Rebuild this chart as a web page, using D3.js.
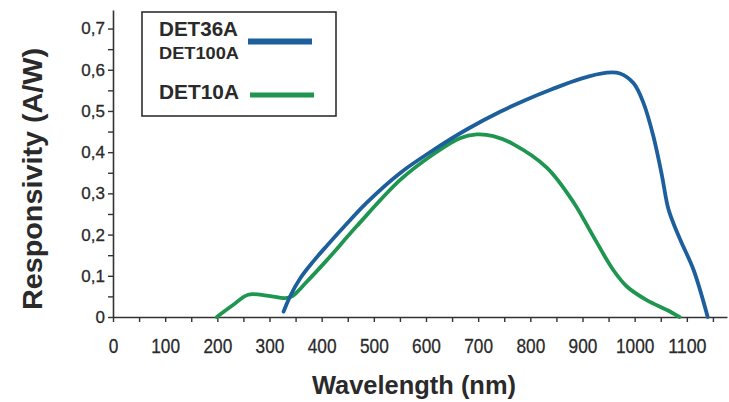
<!DOCTYPE html>
<html>
<head>
<meta charset="utf-8">
<script src="https://cdn.jsdelivr.net/npm/d3@7"></script>
<style>
  html, body { margin: 0; padding: 0; background: #fff; }
  svg { display: block; }
  text { font-family: "Liberation Sans", Arial, Helvetica, sans-serif; fill: #2a2a2a; }
</style>
</head>
<body>
<svg id="chart" width="729" height="402"></svg>
<script>
// Spectral responsivity (A/W) versus wavelength (nm)
const det36Wavelength = [327, 339, 359, 384, 410, 445, 486, 550, 614, 678, 742, 790, 840, 896, 947, 972, 998, 1017, 1036, 1052, 1064, 1075, 1090, 1113, 1140];
const det36Response   = [0.013, 0.049, 0.094, 0.135, 0.173, 0.222, 0.277, 0.349, 0.405, 0.455, 0.498, 0.526, 0.552, 0.578, 0.593, 0.591, 0.567, 0.519, 0.438, 0.345, 0.265, 0.225, 0.18, 0.114, 0];

const det10Wavelength = [199, 230, 259, 295, 330, 343, 371, 410, 467, 550, 614, 665, 697, 729, 768, 832, 883, 921, 959, 985, 1023, 1062, 1086];
const det10Response   = [0, 0.029, 0.054, 0.052, 0.046, 0.05, 0.085, 0.138, 0.22, 0.332, 0.395, 0.434, 0.443, 0.439, 0.419, 0.362, 0.278, 0.195, 0.114, 0.074, 0.041, 0.017, 0];

const xTickValues = d3.range(0, 1151, 50);
const yTickValues = d3.range(0, 0.701, 0.05).map(v => +v.toFixed(2));

const legendNames = ["DET36A", "DET100A", "DET10A"];
const blue = "#1d5f9c";
const green = "#1f9650";

const svg = d3.select("#chart");

const x = d3.scaleLinear().domain([0, 1177]).range([113, 727]);
const y = d3.scaleLinear().domain([0, 0.745]).range([317, 10]);

// x axis
const xAxis = svg.append("g")
  .attr("transform", `translate(0,${y(0)})`)
  .call(d3.axisBottom(x).tickValues(xTickValues).tickSize(5).tickSizeOuter(0)
    .tickFormat(d => d % 100 === 0 ? String(d) : ""));
xAxis.select(".domain").attr("stroke", "#333").attr("stroke-width", 1.6);
xAxis.selectAll(".tick line").attr("stroke", "#333").attr("stroke-width", 1.4);
xAxis.selectAll(".tick text")
  .attr("y", 36).attr("dy", 0)
  .style("font-size", "21px")
  .attr("fill", "#2a2a2a")
  .attr("stroke", "#2a2a2a").attr("stroke-width", 0.3)
  .each(function() {
    const t = d3.select(this).text();
    if (t) d3.select(this).attr("textLength", t.length * 9.6).attr("lengthAdjust", "spacingAndGlyphs");
  });

// y axis
const yAxis = svg.append("g")
  .attr("transform", `translate(${x(0)},0)`)
  .call(d3.axisLeft(y).tickValues(yTickValues).tickSize(5).tickSizeOuter(0)
    .tickFormat(d => {
      const r = Math.round(d * 100);
      if (r % 10 !== 0) return "";
      return r === 0 ? "0" : (d.toFixed(1)).replace(".", ",");
    }));
yAxis.select(".domain").attr("stroke", "#333").attr("stroke-width", 1.6);
yAxis.selectAll(".tick line").attr("stroke", "#333").attr("stroke-width", 1.4);
yAxis.selectAll(".tick text")
  .attr("x", -8)
  .style("font-size", "17px")
  .attr("fill", "#2a2a2a")
  .attr("stroke", "#2a2a2a").attr("stroke-width", 0.3);

// curves
const line = d3.line()
  .x(d => x(d[0]))
  .y(d => y(d[1]))
  .curve(d3.curveCatmullRom.alpha(0.5));

const det36 = det36Wavelength.map((w, i) => [w, det36Response[i]]);
const det10 = det10Wavelength.map((w, i) => [w, det10Response[i]]);

svg.append("path").datum(det10)
  .attr("d", line).attr("fill", "none")
  .attr("stroke", green).attr("stroke-width", 3.8).attr("stroke-linecap", "round");
svg.append("path").datum(det36)
  .attr("d", line).attr("fill", "none")
  .attr("stroke", blue).attr("stroke-width", 3.8).attr("stroke-linecap", "round");

// legend
const legend = svg.append("g");
legend.append("rect")
  .attr("x", 142).attr("y", 12).attr("width", 194).attr("height", 104)
  .attr("fill", "#fff").attr("stroke", "#222").attr("stroke-width", 1.5);
legend.append("text").attr("x", 159).attr("y", 36)
  .style("font-size", "20px").style("font-weight", "bold")
  .attr("textLength", 79).attr("lengthAdjust", "spacingAndGlyphs")
  .text(legendNames[0]);
legend.append("text").attr("x", 159).attr("y", 59)
  .style("font-size", "17px").style("font-weight", "bold")
  .attr("textLength", 80).attr("lengthAdjust", "spacingAndGlyphs")
  .text(legendNames[1]);
legend.append("text").attr("x", 159).attr("y", 99)
  .style("font-size", "21px").style("font-weight", "bold")
  .attr("textLength", 80).attr("lengthAdjust", "spacingAndGlyphs")
  .text(legendNames[2]);
legend.append("line").attr("x1", 248).attr("x2", 312).attr("y1", 41.5).attr("y2", 41.5)
  .attr("stroke", blue).attr("stroke-width", 6);
legend.append("line").attr("x1", 250).attr("x2", 314).attr("y1", 95).attr("y2", 95)
  .attr("stroke", green).attr("stroke-width", 5);

// axis titles
svg.append("text")
  .attr("x", 414).attr("y", 394)
  .attr("text-anchor", "middle")
  .style("font-size", "25px").style("font-weight", "bold")
  .attr("textLength", 204).attr("lengthAdjust", "spacingAndGlyphs")
  .text("Wavelength (nm)");

svg.append("text")
  .attr("transform", "translate(42,179) rotate(-90)")
  .attr("text-anchor", "middle")
  .style("font-size", "28px").style("font-weight", "bold")
  .attr("textLength", 262).attr("lengthAdjust", "spacingAndGlyphs")
  .text("Responsivity (A/W)");
</script>
</body>
</html>
